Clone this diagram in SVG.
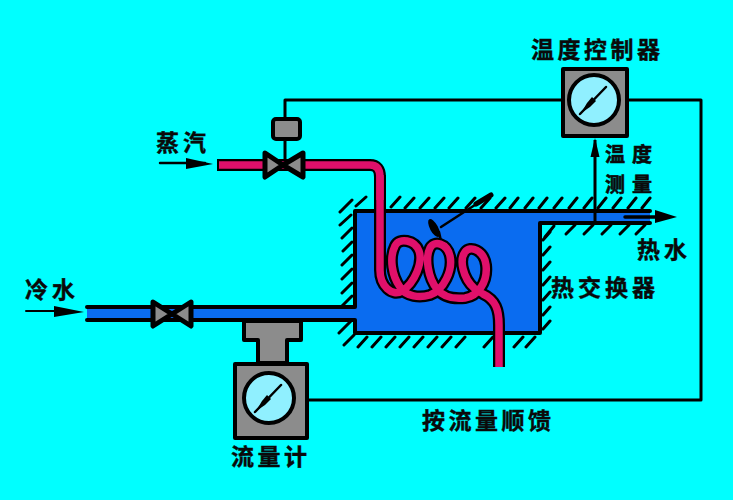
<svg xmlns="http://www.w3.org/2000/svg" width="733" height="500" viewBox="0 0 733 500">
<style>
.k{fill:none;stroke:#000;stroke-linecap:round;stroke-linejoin:round}
.h{fill:none;stroke:#000;stroke-width:3;stroke-linecap:round}
.box{fill:#8c8c8c;stroke:#000;stroke-width:4;stroke-linejoin:round}
.dial{fill:#90f0ff;stroke:#000;stroke-width:4}
.vb{fill:#8c8c8c;stroke:#000;stroke-width:5;stroke-linejoin:round}
.t{font-family:"Noto Sans CJK SC","Noto Sans",sans-serif;font-weight:700;font-size:23px;fill:#0a0a0a;stroke:#0a0a0a;stroke-width:.4}
.s{font-size:20px;stroke-width:.6}
.sig{fill:none;stroke:#000;stroke-width:3;stroke-linejoin:round}
.ar{fill:#000;stroke:none}
.co{fill:none;stroke:#000;stroke-width:12;stroke-linejoin:round}
.cm{fill:none;stroke:#e0106a;stroke-width:7.500;stroke-linejoin:round}
</style>
<defs>
<g id="needle">
<path d="M-14 14L12-13" class="k" stroke-width="2.500"/>
<path d="M-13 13L-7 3L-2-3L2 1L-4 7Z" class="ar"/>
</g>
<path id="coil" d="M380 175V270C380 286 392 297 402 291C415 283 423 262 419 251C415 240 399 237 395 246C389 258 392 276 400 287C406 297 420 298 430 295C444 290 453 270 450 256C447 243 434 240 430 248C425 258 428 278 437 289C444 298 456 299 465 298C478 296 488 282 486 265C484 250 470 245 465 252C459 260 463 278 474 288L483 294C496 300 499 310 499 325V367"/>
</defs>
<rect width="733" height="500" fill="#00ffff"/>

<g id="vessel">
<path d="M355 211H650V223H540V333H355V320H87V307H355Z" fill="#0a6cf0"/>
<path class="k" stroke-width="4" d="M650 211H355V307H87M87 320H355V333H540V223H650"/>
<path class="h" d="M340 212l12-12M356 206l10-9M391 207l9-10M405 208l9-10M420 208l9-10M435 208l9-10M449 208l9-10M466 208l9-10M481 208l9-10M496 208l9-10M510 208l8-10M525 208l8-10M539 208l8-10M554 208l8-10M569 208l8-10M584 208l8-10M598 208l8-10M613 208l8-10M628 208l8-10M642 208l8-10"/>
<path class="h" d="M340 225l11-10M342 238l10-10M343 251l9-9M342 265l10-10M342 279l10-10M342 293l10-10M342 306l10-10M339 333l12-12M344 345l10-10"/>
<path class="h" d="M358 347l9-10M372 347l9-10M386 347l9-10M400 347l9-10M414 347l9-10M428 347l9-10M442 347l9-10M456 347l9-10M484 347l9-10M514 347l9-10M526 347l9-10"/>
<path class="h" d="M543 240l7-8M543 255l7-8M543 270l7-8M543 285l7-8M543 300l7-8M543 315l7-8M543 329l7-8"/>
<path class="h" d="M545 237l9-11M566 234l9-9M584 234l9-9M602 234l9-9M620 234l9-9M636 234l9-9"/>
</g>

<g id="sensor">
<path class="k" stroke-width="2.500" d="M439 232L441 241M441 227L478 203"/>
<path class="k" stroke-width="5" d="M476 204L491 195"/>
<ellipse cx="434" cy="228" rx="4" ry="10" transform="rotate(-28 434 228)" fill="#000"/>
</g>

<g id="connectors">
<path class="sig" d="M562 100H285V118"/>
<path class="sig" d="M628 100H701V400H308"/>
<path class="sig" d="M285 139V163"/>
<path class="sig" d="M595 222V140"/>
<path class="ar" d="M595 138L599.500 157H590.500Z"/>
<path d="M625 217H660" class="k" stroke-width="3.500"/>
<path class="ar" d="M655 210L677 217L655 223Z"/>
<path d="M160 163H205" class="k" stroke-width="2.500"/>
<path class="ar" d="M186 158L213 164L186 169Z"/>
<path d="M26 311H70" class="k" stroke-width="2"/>
<path class="ar" d="M54 306L84 312L54 317Z"/>
</g>

<g id="steam-pipe">
<path class="co" d="M217 165H370Q380 165 380 177V200"/>
<use href="#coil" class="co"/>
<path class="cm" d="M219 165H370Q380 165 380 177V200"/>
<use href="#coil" class="cm"/>
</g>

<g id="steam-valve">
<path class="vb" d="M265 153L283 165L265 177Z"/>
<path class="vb" d="M303 153L283 165L303 177Z"/>
</g>
<g id="actuator">
<rect class="box" x="273" y="119" width="27" height="20" rx="3"/>
</g>

<g id="cold-valve">
<path class="vb" d="M153 302L172 314L153 326Z"/>
<path class="vb" d="M191 302L172 314L191 326Z"/>
</g>

<g id="flow-meter">
<path class="box" d="M244 321H301V340H287V363H258V340H244Z"/>
<rect class="box" x="235" y="364" width="72" height="74"/>
<circle class="dial" cx="269" cy="398" r="25"/>
<use href="#needle" x="269" y="398"/>
</g>

<g id="controller">
<rect class="box" x="563" y="69" width="64" height="67"/>
<circle class="dial" cx="594" cy="100" r="25"/>
<use href="#needle" x="594" y="100"/>
</g>

<g id="labels">
<text class="t" x="531" y="58" letter-spacing="3.500">温度控制器</text>
<text class="t" x="156" y="151" letter-spacing="4">蒸汽</text>
<text class="t" x="25" y="298" letter-spacing="4">冷水</text>
<text class="t s" x="605" y="162" letter-spacing="7">温度</text>
<text class="t s" x="605" y="192" letter-spacing="7">测量</text>
<text class="t" x="637" y="258" letter-spacing="4">热水</text>
<text class="t" x="551" y="296" letter-spacing="4">热交换器</text>
<text class="t" x="422" y="429" letter-spacing="3.500">按流量顺馈</text>
<text class="t" x="231" y="465" letter-spacing="3.500">流量计</text>
</g>
</svg>
